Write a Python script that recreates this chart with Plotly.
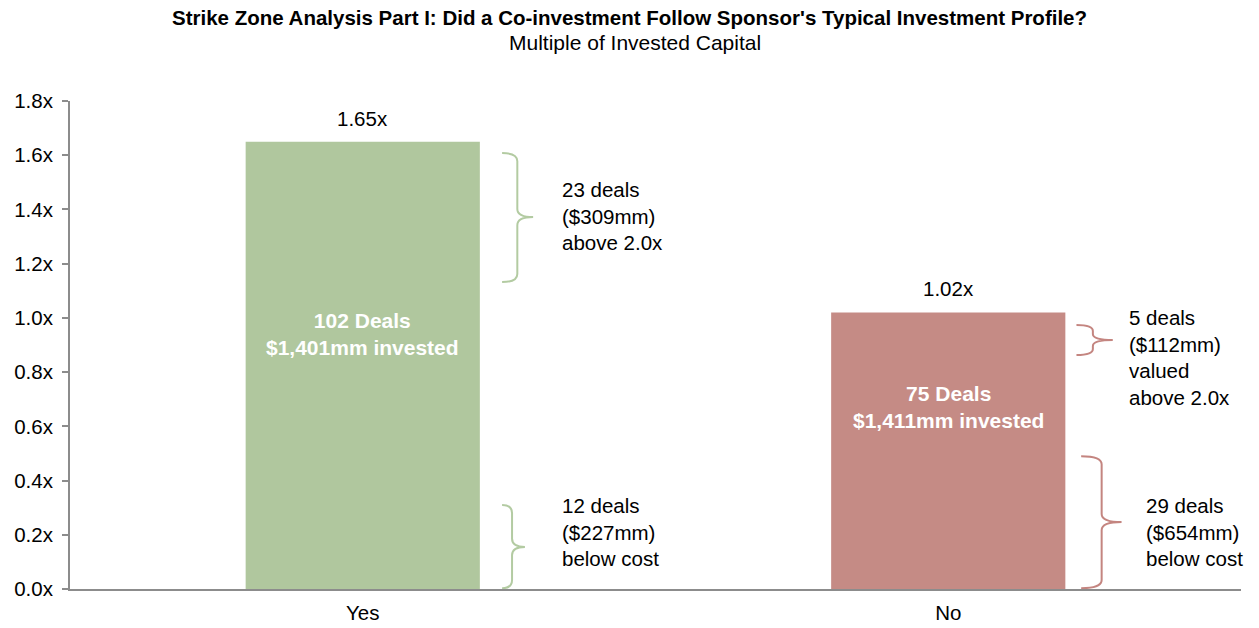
import plotly.graph_objects as go

categories = ["Yes", "No"]
moic = [1.65, 1.02]
value_labels = ["1.65x", "1.02x"]
inside_labels = ["102 Deals<br>$1,401mm invested", "75 Deals<br>$1,411mm invested"]
inside_label_y = [0.94, 0.67]
bar_colors = ["#B0C79E", "#C58B85"]
brace_colors = ["#B3CBA2", "#C48580"]
y_ticks = [0.0, 0.2, 0.4, 0.6, 0.8, 1.0, 1.2, 1.4, 1.6, 1.8]
title_text = "Strike Zone Analysis Part I: Did a Co-investment Follow Sponsor's Typical Investment Profile?"
subtitle_text = "Multiple of Invested Capital"

# braces: (category index, x tip, x spine, x point, y top, y bottom, y mid)
braces = [
    (0, 0.238, 0.264, 0.291, 1.608, 1.132, 1.372),
    (0, 0.238, 0.255, 0.277, 0.310, 0.003, 0.155),
    (1, 1.219, 1.247, 1.281, 0.974, 0.863, 0.918),
    (1, 1.227, 1.262, 1.296, 0.490, 0.003, 0.247),
]
brace_texts = [
    "23 deals<br>($309mm)<br>above 2.0x",
    "12 deals<br>($227mm)<br>below cost",
    "5 deals<br>($112mm)<br>valued<br>above 2.0x",
    "29 deals<br>($654mm)<br>below cost",
]
brace_text_pos = [(0.337, 1.375), (0.337, 0.21), (1.305, 0.855), (1.334, 0.21)]

FONT = "Liberation Sans, Arial, sans-serif"
FS = 20.5
xs = list(range(len(categories)))

fig = go.Figure()
fig.add_trace(go.Bar(x=xs, y=moic, width=0.4, marker=dict(color=bar_colors, line=dict(width=0)),
                     hoverinfo="skip", showlegend=False))

for i, x in enumerate(xs):
    fig.add_annotation(x=x, y=moic[i], text=value_labels[i], showarrow=False, yanchor="bottom",
                       yshift=10, font=dict(size=FS, color="#000000", family=FONT))
    fig.add_annotation(x=x, y=inside_label_y[i], text="<b>" + inside_labels[i] + "</b>", showarrow=False,
                       font=dict(size=21, color="#FFFFFF", family=FONT))


def brace_path(x0, x1, x2, yt, yb, ym):
    r = min(0.03, (yt - yb) / 5)
    return (f"M {x0},{yt} Q {x1},{yt} {x1},{yt - r} L {x1},{ym + r} "
            f"Q {x1},{ym} {x2},{ym} Q {x1},{ym} {x1},{ym - r} "
            f"L {x1},{yb + r} Q {x1},{yb} {x0},{yb}")


for (ci, x0, x1, x2, yt, yb, ym), txt, (tx, ty) in zip(braces, brace_texts, brace_text_pos):
    fig.add_shape(type="path", path=brace_path(x0, x1, x2, yt, yb, ym), xref="x", yref="y",
                  line=dict(color=brace_colors[ci], width=2))
    fig.add_annotation(x=tx, y=ty, text=txt, showarrow=False, xanchor="left", yanchor="middle",
                       align="left", font=dict(size=FS, color="#000000", family=FONT))

# title lines
fig.add_annotation(xref="paper", yref="paper", x=0.4774, y=1.172, text="<b>" + title_text + "</b>",
                   showarrow=False, xanchor="center", yanchor="middle",
                   font=dict(size=FS, color="#000000", family=FONT))
fig.add_annotation(xref="paper", yref="paper", x=0.4825, y=1.119, text=subtitle_text,
                   showarrow=False, xanchor="center", yanchor="middle",
                   font=dict(size=21, color="#000000", family=FONT))

fig.update_layout(
    width=1259, height=628,
    margin=dict(l=70, r=18, t=101, b=39),
    paper_bgcolor="#FFFFFF", plot_bgcolor="#FFFFFF",
    font=dict(family=FONT, color="#000000"),
    xaxis=dict(range=[-0.5, 1.5], tickvals=xs, ticktext=categories, showgrid=False, zeroline=False,
               showline=True, linecolor="#8C8C8C", linewidth=2, ticks="outside", ticklen=4,
               tickcolor="rgba(0,0,0,0)", automargin=False,
               tickfont=dict(size=FS, color="#000000", family=FONT)),
    yaxis=dict(range=[0, 1.8], tickvals=y_ticks, ticktext=[f"{v:.1f}x" for v in y_ticks],
               showgrid=False, zeroline=False, showline=True, linecolor="#8C8C8C", linewidth=2,
               ticks="outside", ticklen=6, tickcolor="#8C8C8C", tickwidth=2, automargin=False,
               ticklabelstandoff=5,
               tickfont=dict(size=FS, color="#000000", family=FONT)),
)

fig.write_html("out.html", config={"displayModeBar": False},
               post_script="document.body.style.margin='0';document.body.style.padding='0';")
